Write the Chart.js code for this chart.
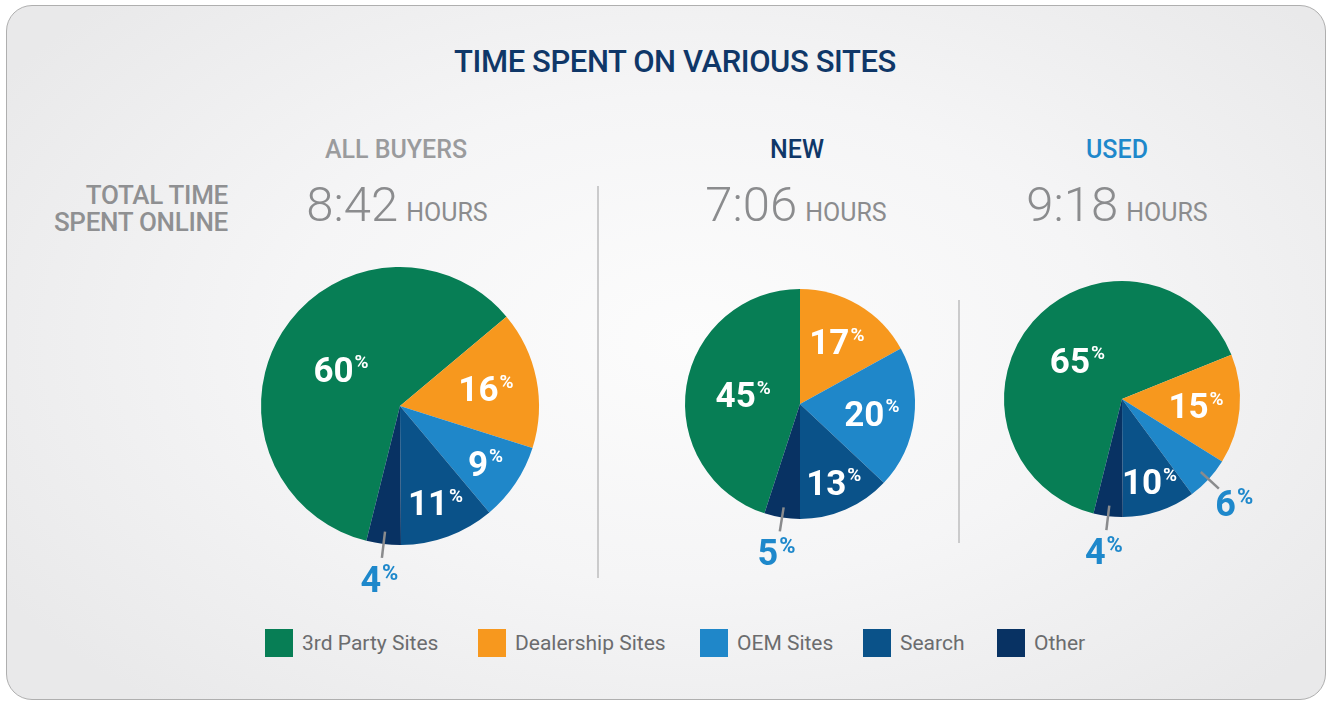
<!DOCTYPE html>
<html>
<head>
<meta charset="utf-8">
<script src="https://cdn.jsdelivr.net/npm/chart.js@4.4.1/dist/chart.umd.min.js"></script>
<style>
  html, body { margin: 0; padding: 0; background: #ffffff; }
  body { width: 1328px; height: 702px; position: relative; overflow: hidden; font-family: Roboto, "Noto Sans", sans-serif; }
  #card {
    position: absolute; left: 6px; top: 5px; width: 1318px; height: 693px;
    border: 1.5px solid #afafaf; border-radius: 26px;
    background: radial-gradient(ellipse 62% 70% at 52% 48%, #fcfcfc 0%, #f5f5f6 50%, #e9e9ea 100%);
  }
  .abs { position: absolute; white-space: nowrap; line-height: 1; }
  #title { left: 375px; width: 600px; top: 46px; text-align: center; font-size: 31px; letter-spacing: -0.4px; font-weight: 500; color: #0f3768; }
  .head { width: 300px; text-align: center; font-size: 25px; font-weight: 500; top: 137px; }
  .time { width: 300px; text-align: center; top: 180px; color: #8b8c8e; }
  .time .big { font-size: 49px; font-weight: 300; }
  .time .unit { font-size: 25px; font-weight: 400; margin-left: 8px; }
  #total { right: 1100px; top: 182px; text-align: right; font-size: 26px; font-weight: 500; color: #8f9092; line-height: 27px; letter-spacing: -0.3px; }
  .divider { position: absolute; width: 2px; background: #cbcbcc; }
  #legend { position: absolute; left: 265px; top: 629px; display: flex; }
  .item { display: flex; align-items: center; }
  .sw { width: 28px; height: 28px; margin-right: 9px; }
  .lt { font-size: 21px; color: #6b6c6e; }
  .chartbox { position: absolute; }
</style>
</head>
<body>
<div id="card"></div>
<div id="title" class="abs">TIME SPENT ON VARIOUS SITES</div>
<div id="total" class="abs">TOTAL TIME<br>SPENT ONLINE</div>
<div class="divider" style="left:597px; top:186px; height:392px;"></div>
<div class="divider" style="left:958px; top:300px; height:243px;"></div>
<div id="headers"></div>
<div id="legend"></div>

<div class="chartbox" style="left:190px; top:196px;"><canvas id="c0" width="420" height="420"></canvas></div>
<div class="chartbox" style="left:600px; top:204px;"><canvas id="c1" width="400" height="400"></canvas></div>
<div class="chartbox" style="left:922px; top:199px;"><canvas id="c2" width="400" height="400"></canvas></div>

<script>
// ---- data ----
const categories = ['3rd Party Sites', 'Dealership Sites', 'OEM Sites', 'Search', 'Other'];
const allBuyersShare = [60, 16, 9, 11, 4];
const newBuyersShare = [45, 17, 20, 13, 5];
const usedBuyersShare = [65, 15, 6, 10, 4];
const groupNames = ['ALL BUYERS', 'NEW', 'USED'];
const totalTimes = ['8:42', '7:06', '9:18'];
const timeUnit = 'HOURS';

// ---- styles ----
const sliceColors = ['#077e55', '#f7981e', '#1f87c9', '#0a5289', '#083263'];
const headColors = ['#9a9b9d', '#0f3768', '#1e88cb'];
const headCenters = [396, 797, 1117];
const timeCenters = [397, 796, 1117];
const rotations = [194, 198, 194];
const paddings = [71, 85, 82];
const legendWidths = [213, 222, 163, 134, 120];

// headers and times
const hdr = document.getElementById('headers');
groupNames.forEach((g, i) => {
  const h = document.createElement('div');
  h.className = 'abs head';
  h.style.left = (headCenters[i] - 150) + 'px';
  h.style.color = headColors[i];
  h.textContent = g;
  hdr.appendChild(h);
  const t = document.createElement('div');
  t.className = 'abs time';
  t.style.left = (timeCenters[i] - 150) + 'px';
  t.innerHTML = '<span class="big">' + totalTimes[i] + '</span><span class="unit">' + timeUnit + '</span>';
  hdr.appendChild(t);
});

// legend
const lg = document.getElementById('legend');
categories.forEach((c, i) => {
  const it = document.createElement('div');
  it.className = 'item';
  it.style.width = legendWidths[i] + 'px';
  it.innerHTML = '<div class="sw" style="background:' + sliceColors[i] + '"></div><span class="lt">' + c + '</span>';
  lg.appendChild(it);
});

function drawPct(ctx, cx, cy, v, color, size, psize) {
  const num = String(v);
  ctx.save();
  ctx.fillStyle = color;
  ctx.textAlign = 'left';
  ctx.textBaseline = 'alphabetic';
  ctx.font = 'bold ' + size + 'px Roboto';
  const wN = ctx.measureText(num).width;
  ctx.font = 'bold ' + psize + 'px Roboto';
  const wP = ctx.measureText('%').width;
  const gap = 1;
  const x0 = cx - (wN + gap + wP) / 2;
  const cap = 0.711 * size;
  const base = cy + cap / 2;
  ctx.font = 'bold ' + size + 'px Roboto';
  ctx.fillText(num, x0, base);
  ctx.font = 'bold ' + psize + 'px Roboto';
  ctx.fillText('%', x0 + wN + gap, base - cap + 0.711 * psize - 2);
  ctx.restore();
}

const sliceLabels = {
  id: 'sliceLabels',
  afterDatasetsDraw(chart) {
    const ctx = chart.ctx;
    const meta = chart.getDatasetMeta(0);
    const data = chart.data.datasets[0].data;
    meta.data.forEach((arc, i) => {
      const p = arc.getProps(['x', 'y', 'startAngle', 'endAngle', 'outerRadius'], true);
      const mid = (p.startAngle + p.endAngle) / 2;
      const c = Math.cos(mid), s = Math.sin(mid);
      const r = p.outerRadius;
      const v = data[i];
      if (v >= 8) {
        const f = v >= 40 ? 0.5 : (v >= 15 ? 0.63 : 0.74);
        drawPct(ctx, p.x + c * r * f, p.y + s * r * f, v, '#ffffff', 35, 19);
      } else {
        ctx.save();
        ctx.strokeStyle = '#8a8b8d';
        ctx.lineWidth = 2.5;
        ctx.beginPath();
        ctx.moveTo(p.x + c * r * 0.91, p.y + s * r * 0.91);
        ctx.lineTo(p.x + c * (r + 14), p.y + s * (r + 14));
        ctx.stroke();
        ctx.restore();
        const d = r + 35;
        drawPct(ctx, p.x + c * d, p.y + s * d, v, '#1e88cb', 36, 22);
      }
    });
  }
};

const shares = [allBuyersShare, newBuyersShare, usedBuyersShare];
shares.forEach((vals, k) => {
  new Chart(document.getElementById('c' + k), {
    type: 'pie',
    data: {
      labels: categories,
      datasets: [{
        data: vals,
        backgroundColor: sliceColors,
        borderWidth: 0,
        hoverOffset: 0,
        offset: 0
      }]
    },
    options: {
      responsive: false,
      animation: false,
      events: [],
      rotation: rotations[k],
      layout: { padding: paddings[k] },
      plugins: { legend: { display: false }, tooltip: { enabled: false }, title: { display: false } }
    },
    plugins: [sliceLabels]
  });
});
</script>
</body>
</html>
